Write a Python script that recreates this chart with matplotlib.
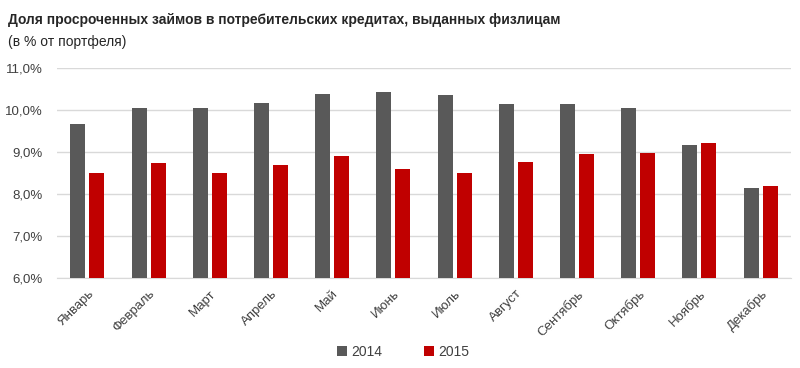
import matplotlib
matplotlib.use("Agg")
import matplotlib.pyplot as plt
import numpy as np
from matplotlib.ticker import FuncFormatter

months = ["Январь", "Февраль", "Март", "Апрель", "Май", "Июнь", "Июль",
          "Август", "Сентябрь", "Октябрь", "Ноябрь", "Декабрь"]
values_2014 = [9.67, 10.04, 10.04, 10.17, 10.39, 10.42, 10.36, 10.14, 10.14, 10.04, 9.17, 8.15]
values_2015 = [8.51, 8.73, 8.51, 8.69, 8.91, 8.60, 8.51, 8.77, 8.94, 8.98, 9.22, 8.19]
series_names = ["2014", "2015"]
y_ticks = [6, 7, 8, 9, 10, 11]

plt.rcParams['font.family'] = ['Liberation Sans', 'DejaVu Sans']

fig = plt.figure(figsize=(8, 3.68), dpi=100)
ax = fig.add_axes([0.071, 0.2446, 0.918, 0.5707])

x = np.arange(len(months))
w = 0.245
off = 0.155
gray = "#595959"
red = "#C00000"
ax.bar(x - off, values_2014, width=w, color=gray, label=series_names[0], zorder=3)
ax.bar(x + off, values_2015, width=w, color=red, label=series_names[1], zorder=3)

ax.set_ylim(6, 11)
ax.set_xlim(-0.5, len(months) - 0.5)
ax.set_yticks(y_ticks)
ax.yaxis.set_major_formatter(FuncFormatter(lambda v, p: f"{v:.1f}%".replace(".", ",")))
ax.grid(axis="y", color="#D9D9D9", linewidth=1, zorder=0)
for s in ["top", "right", "left"]:
    ax.spines[s].set_visible(False)
ax.spines["bottom"].set_color("#D9D9D9")
ax.tick_params(axis="both", length=0, labelsize=9.5, colors="#404040")
ax.tick_params(axis="y", pad=10)
ax.set_xticks(x)
ax.set_xticklabels(months, rotation=45, ha="right", rotation_mode="anchor")
ax.tick_params(axis="x", pad=7)

fig.text(0.01, 0.965, "Доля просроченных займов в потребительских кредитах, выданных физлицам",
         fontsize=10, fontweight="bold", color="#262626", va="top", ha="left")
fig.text(0.01, 0.905, "(в % от портфеля)", fontsize=10, color="#262626", va="top", ha="left")

leg = fig.legend(loc="center", bbox_to_anchor=(0.504, 0.043), ncol=2, frameon=False,
                 fontsize=10, handlelength=0.7, handleheight=0.7, columnspacing=3.0,
                 handletextpad=0.3)
for t in leg.get_texts():
    t.set_color("#404040")

fig.savefig("out.png", dpi=100)
